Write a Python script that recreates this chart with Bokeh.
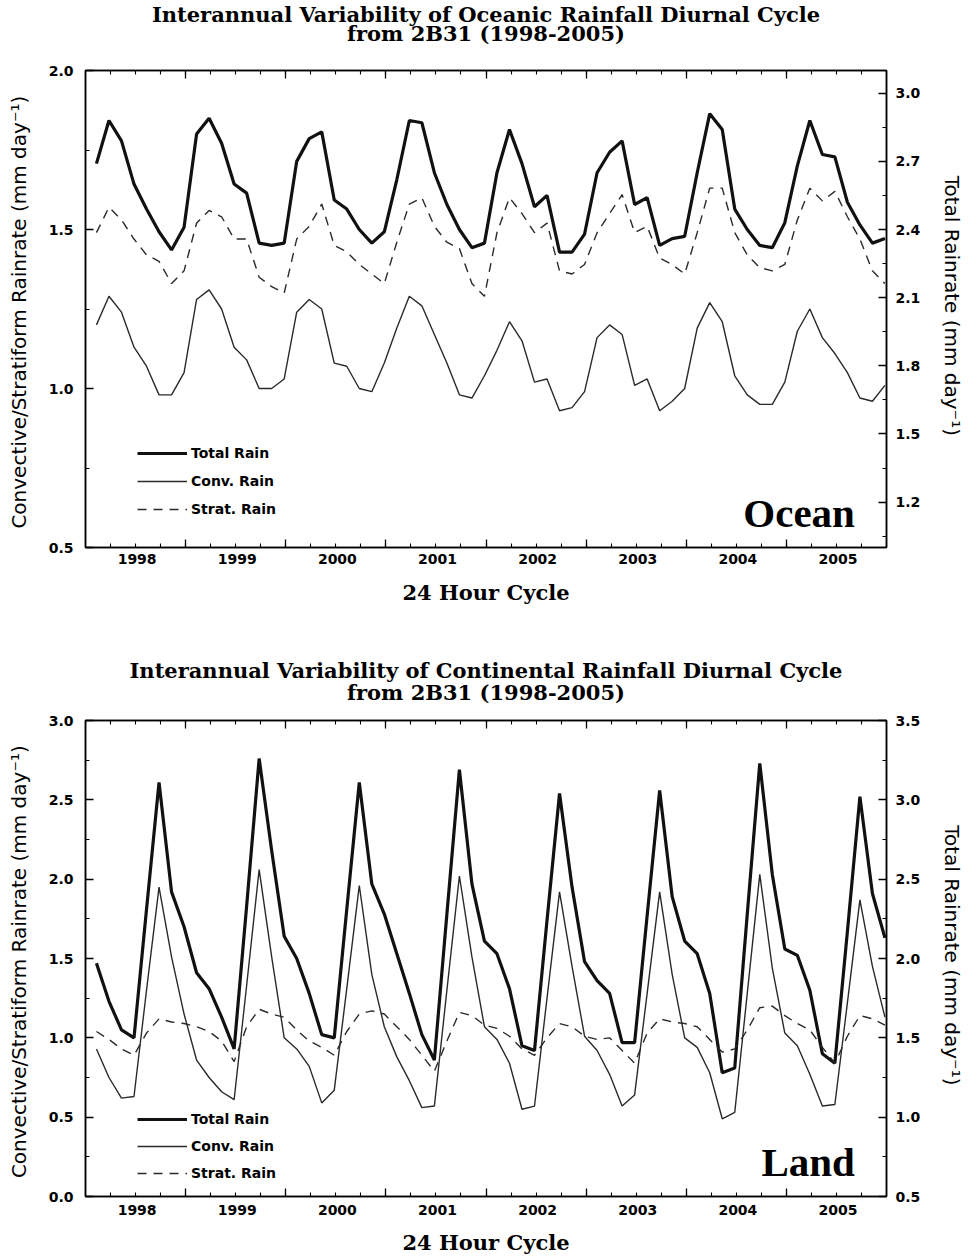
from bokeh.plotting import figure
from bokeh.models import (Range1d, LinearAxis, FixedTicker, PrintfTickFormatter,
                          CustomJSTickFormatter, Legend, LegendItem, Label, Title)
from bokeh.layouts import column
from bokeh.embed import file_html
from bokeh.resources import INLINE

# ---------------- data (3-hourly diurnal cycle, 8 samples per year) ----------------
years = ["1998", "1999", "2000", "2001", "2002", "2003", "2004", "2005"]
samples_per_year = 8

ocean_total = [2.69, 2.88, 2.79, 2.60, 2.49, 2.39, 2.31, 2.41,
               2.82, 2.89, 2.78, 2.60, 2.56, 2.34, 2.33, 2.34,
               2.70, 2.80, 2.83, 2.53, 2.49, 2.40, 2.34, 2.39,
               2.62, 2.88, 2.87, 2.65, 2.51, 2.40, 2.32, 2.34,
               2.65, 2.84, 2.69, 2.50, 2.55, 2.30, 2.30, 2.38,
               2.65, 2.74, 2.79, 2.51, 2.54, 2.33, 2.36, 2.37,
               2.65, 2.91, 2.84, 2.49, 2.40, 2.33, 2.32, 2.43,
               2.68, 2.88, 2.73, 2.72, 2.52, 2.42, 2.34, 2.36]
ocean_conv = [1.20, 1.29, 1.24, 1.13, 1.07, 0.98, 0.98, 1.05,
              1.28, 1.31, 1.25, 1.13, 1.09, 1.00, 1.00, 1.03,
              1.24, 1.28, 1.25, 1.08, 1.07, 1.00, 0.99, 1.08,
              1.19, 1.29, 1.26, 1.17, 1.08, 0.98, 0.97, 1.04,
              1.12, 1.21, 1.15, 1.02, 1.03, 0.93, 0.94, 0.99,
              1.16, 1.20, 1.17, 1.01, 1.03, 0.93, 0.96, 1.00,
              1.19, 1.27, 1.21, 1.04, 0.98, 0.95, 0.95, 1.02,
              1.18, 1.25, 1.16, 1.11, 1.05, 0.97, 0.96, 1.01]
ocean_strat = [1.49, 1.57, 1.53, 1.47, 1.42, 1.40, 1.33, 1.37,
               1.52, 1.56, 1.54, 1.47, 1.47, 1.35, 1.32, 1.30,
               1.47, 1.51, 1.58, 1.45, 1.43, 1.39, 1.36, 1.33,
               1.46, 1.58, 1.60, 1.51, 1.46, 1.44, 1.33, 1.29,
               1.49, 1.60, 1.55, 1.49, 1.52, 1.37, 1.36, 1.39,
               1.49, 1.55, 1.61, 1.49, 1.51, 1.41, 1.39, 1.36,
               1.49, 1.63, 1.63, 1.49, 1.42, 1.38, 1.37, 1.39,
               1.53, 1.63, 1.59, 1.62, 1.54, 1.47, 1.37, 1.33]

land_total = [1.97, 1.73, 1.55, 1.50, 2.31, 3.11, 2.42, 2.20,
              1.91, 1.81, 1.63, 1.43, 2.33, 3.26, 2.68, 2.14,
              2.00, 1.78, 1.52, 1.50, 2.31, 3.11, 2.47, 2.28,
              2.03, 1.78, 1.52, 1.36, 2.28, 3.19, 2.47, 2.11,
              2.03, 1.81, 1.45, 1.42, 2.24, 3.04, 2.45, 1.98,
              1.86, 1.78, 1.47, 1.47, 2.27, 3.06, 2.39, 2.11,
              2.03, 1.78, 1.28, 1.31, 2.28, 3.23, 2.53, 2.06,
              2.02, 1.80, 1.40, 1.34, 2.17, 3.02, 2.41, 2.13]
land_conv = [0.93, 0.75, 0.62, 0.63, 1.30, 1.95, 1.51, 1.15,
             0.86, 0.75, 0.66, 0.61, 1.33, 2.06, 1.51, 1.00,
             0.93, 0.82, 0.59, 0.67, 1.31, 1.96, 1.40, 1.07,
             0.88, 0.73, 0.56, 0.57, 1.30, 2.02, 1.51, 1.07,
             0.99, 0.84, 0.55, 0.57, 1.25, 1.92, 1.45, 1.01,
             0.92, 0.77, 0.57, 0.64, 1.28, 1.92, 1.40, 1.00,
             0.94, 0.78, 0.49, 0.53, 1.28, 2.03, 1.44, 1.03,
             0.95, 0.77, 0.57, 0.58, 1.22, 1.87, 1.45, 1.13]
land_strat = [1.04, 0.99, 0.93, 0.89, 1.03, 1.12, 1.10, 1.09,
              1.07, 1.04, 0.98, 0.85, 1.07, 1.18, 1.15, 1.13,
              1.05, 0.98, 0.94, 0.89, 1.04, 1.15, 1.17, 1.15,
              1.07, 0.99, 0.89, 0.79, 0.98, 1.16, 1.14, 1.08,
              1.06, 1.01, 0.93, 0.89, 1.00, 1.09, 1.07, 1.01,
              0.99, 1.00, 0.92, 0.84, 1.03, 1.12, 1.10, 1.09,
              1.07, 0.99, 0.91, 0.93, 1.05, 1.19, 1.20, 1.14,
              1.09, 1.05, 0.94, 0.84, 1.01, 1.14, 1.12, 1.08]

ocean_left_ticks = [0.5, 1.0, 1.5, 2.0]
ocean_left_minor = [0.75, 1.25, 1.75]
ocean_right_ticks = [1.2, 1.5, 1.8, 2.1, 2.4, 2.7, 3.0]
ocean_right_minor = [1.05, 1.35, 1.65, 1.95, 2.25, 2.55, 2.85]
land_left_ticks = [0.0, 0.5, 1.0, 1.5, 2.0, 2.5, 3.0]
land_left_minor = [0.25, 0.75, 1.25, 1.75, 2.25, 2.75]
land_right_ticks = [0.5, 1.0, 1.5, 2.0, 2.5, 3.0, 3.5]
land_right_minor = [0.75, 1.25, 1.75, 2.25, 2.75, 3.25]

# ---------------- styling ----------------
SANS = "DejaVu Sans"
SERIF = "DejaVu Serif"
TAGFONT = "Liberation Serif"
LEFT_TITLE = "Convective/Stratiform Rainrate (mm  day\u207b\u00b9)"
RIGHT_TITLE = "Total Rainrate (mm  day\u207b\u00b9)"

X0 = -0.875                      # left edge of the 1998 day
n_pts = len(years) * samples_per_year
year_bounds = [X0 + samples_per_year * k for k in range(1, len(years))]
six_hour_ticks = [X0 + 2 * k for k in range(1, n_pts // 2)]
year_centres = [3.25 + samples_per_year * k for k in range(len(years))]


def style_ticks(ax):
    ax.axis_line_width = 1.5
    ax.axis_line_color = "black"
    ax.major_tick_in = 8
    ax.major_tick_out = 0
    ax.minor_tick_in = 4
    ax.minor_tick_out = 0
    ax.major_tick_line_width = 1.3
    ax.minor_tick_line_width = 1.1
    ax.major_label_text_font = SANS
    ax.major_label_text_font_size = "14px"
    ax.major_label_text_font_style = "bold"
    ax.major_label_text_color = "black"
    ax.axis_label_text_color = "black"


def hidden_label_axis(ax):
    style_ticks(ax)
    ax.ticker = FixedTicker(ticks=year_bounds, minor_ticks=six_hour_ticks)
    ax.formatter = CustomJSTickFormatter(code="return ''")
    ax.major_label_standoff = 0
    ax.major_label_text_font_size = "1px"


def spacer_axis(gap):
    # invisible axis whose (uncoloured) outward ticks keep a gap under the titles
    ax = LinearAxis(ticker=FixedTicker(ticks=[X0], minor_ticks=[]),
                    formatter=CustomJSTickFormatter(code="return ''"))
    ax.axis_line_color = None
    ax.major_tick_line_color = None
    ax.minor_tick_line_color = None
    ax.major_tick_in = 0
    ax.major_tick_out = gap
    ax.minor_tick_in = 0
    ax.minor_tick_out = 0
    ax.major_label_standoff = 0
    ax.major_label_text_font_size = "1px"
    return ax


def panel(title1, title2, total, conv, strat, yl, yr, lt, lm, rt, rm, tag, tag_y,
          leg_y, leg_spacing, top_gap, title1_standoff, lab_standoff, xtitle_standoff,
          mb_left, mb_right, mb_top, mb_bottom):
    p = figure(width=968, height=630, x_range=Range1d(X0, X0 + n_pts),
               y_range=Range1d(*yl), output_backend="svg", toolbar_location=None,
               title_location=None, min_border_left=mb_left, min_border_right=mb_right,
               min_border_top=mb_top, min_border_bottom=mb_bottom,
               background_fill_color="white", border_fill_color="white")
    p.outline_line_color = "black"
    p.outline_line_width = 1.5
    p.grid.visible = False
    p.extra_y_ranges = {"total": Range1d(*yr)}

    x = list(range(len(total)))
    r_total = p.line(x, total, y_range_name="total", line_width=3.2, line_color="#111111")
    r_conv = p.line(x, conv, line_width=1.4, line_color="#2a2a2a")
    r_strat = p.line(x, strat, line_width=1.4, line_color="#2a2a2a", line_dash="9 7")

    # left axis
    ly = p.yaxis[0]
    style_ticks(ly)
    ly.ticker = FixedTicker(ticks=lt, minor_ticks=lm)
    ly.formatter = PrintfTickFormatter(format="%.1f")
    ly.major_label_standoff = 12
    ly.axis_label = LEFT_TITLE
    ly.axis_label_text_font = SANS
    ly.axis_label_text_font_size = "20px"
    ly.axis_label_text_font_style = "normal"
    ly.axis_label_standoff = 15

    # right axis (total rain)
    ry = LinearAxis(y_range_name="total")
    style_ticks(ry)
    ry.ticker = FixedTicker(ticks=rt, minor_ticks=rm)
    ry.formatter = PrintfTickFormatter(format="%.1f")
    ry.major_label_standoff = 9
    ry.axis_label = RIGHT_TITLE
    ry.axis_label_text_font = SANS
    ry.axis_label_text_font_size = "20px"
    ry.axis_label_text_font_style = "normal"
    ry.axis_label_standoff = 17
    p.add_layout(ry, "right")

    # bottom: ticks only (long at year boundaries), then year labels
    hidden_label_axis(p.xaxis[0])
    lab = LinearAxis(ticker=FixedTicker(ticks=year_centres, minor_ticks=[]),
                     formatter=CustomJSTickFormatter(args=dict(years=years),
                                                     code="return years[Math.round((tick - 3.25) / 8)]"))
    style_ticks(lab)
    lab.axis_line_color = None
    lab.major_tick_line_color = None
    lab.minor_tick_line_color = None
    lab.major_tick_in = 0
    lab.minor_tick_in = 0
    lab.major_label_standoff = lab_standoff
    lab.axis_label = "24 Hour Cycle"
    lab.axis_label_text_font = SERIF
    lab.axis_label_text_font_size = "21px"
    lab.axis_label_text_font_style = "bold"
    lab.axis_label_standoff = xtitle_standoff
    p.add_layout(lab, "below")

    # top mirror ticks, a spacer, then the two title lines
    top = LinearAxis()
    hidden_label_axis(top)
    p.add_layout(top, "above")
    p.add_layout(spacer_axis(top_gap), "above")
    for txt, so in ((title2, 0), (title1, title1_standoff)):
        p.add_layout(Title(text=txt, align="center", text_font=SERIF, text_font_size="21px",
                           text_font_style="bold", text_color="black", standoff=so), "above")

    leg = Legend(items=[LegendItem(label="Total Rain", renderers=[r_total]),
                        LegendItem(label="Conv. Rain", renderers=[r_conv]),
                        LegendItem(label="Strat. Rain", renderers=[r_strat])],
                 location=(52, leg_y), orientation="vertical", glyph_width=50,
                 glyph_height=20, spacing=leg_spacing, padding=0, margin=0,
                 label_standoff=4, border_line_color=None, background_fill_alpha=0,
                 label_text_font=SANS, label_text_font_size="14px",
                 label_text_font_style="bold", label_text_color="black")
    p.add_layout(leg)

    p.add_layout(Label(x=60.6, y=tag_y, text=tag, text_align="right",
                       text_baseline="alphabetic", text_font=TAGFONT,
                       text_font_size="41px", text_font_style="bold", text_color="black"))
    return p


p1 = panel("Interannual Variability of Oceanic Rainfall Diurnal Cycle",
           "from 2B31 (1998-2005)", ocean_total, ocean_conv, ocean_strat,
           (0.5, 2.0), (1.0, 3.1), ocean_left_ticks, ocean_left_minor,
           ocean_right_ticks, ocean_right_minor, "Ocean", 0.61,
           28, 8, 25, -16, 6, 13, 82, 82, 70, 83)
p2 = panel("Interannual Variability of Continental Rainfall Diurnal Cycle",
           "from 2B31 (1998-2005)", land_total, land_conv, land_strat,
           (0.0, 3.0), (0.5, 3.5), land_left_ticks, land_left_minor,
           land_right_ticks, land_right_minor, "Land", 0.22,
           13, 7, 16, -10, 8, 12, 85, 80, 90, 64)

layout = column(p1, p2, spacing=0)
open("out.html", "w").write(file_html(layout, INLINE))
